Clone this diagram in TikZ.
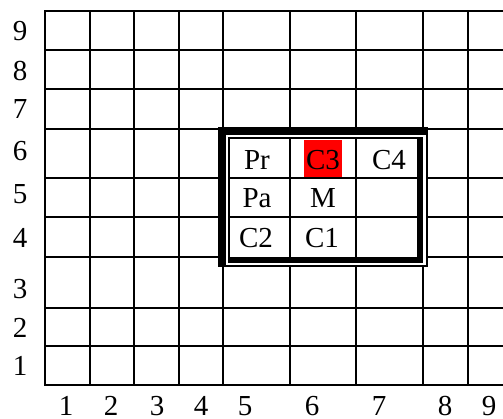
\documentclass[tikz,border=0pt]{standalone}
\usepackage{fontspec}
\setmainfont{Liberation Serif}
\begin{document}
\begin{tikzpicture}[x=1pt,y=-1pt,
  gridline/.style={line width=2pt,line cap=rect},
  lbl/.style={anchor=base,inner sep=0pt,font=\fontsize{29}{29}\selectfont}]
\useasboundingbox[fill=white] (0,0) rectangle (503,418);
% grid
\foreach \y in {11,50,89,129,178,217,257,308,346,385}
  \draw[gridline] (45,\y) -- (503,\y);
\foreach \x in {45,90,134,179,223,290,356,423,468}
  \draw[gridline] (\x,11) -- (\x,385);
% table frame
\fill[white] (218,127) rectangle (428,267);
\draw[line width=8pt] (218,131) -- (428,131);
\draw[line width=8pt] (222,127) -- (222,267);
\draw[line width=1.6pt] (427,127) -- (427,267);
\draw[line width=1.6pt] (218,266) -- (428,266);
\draw[line width=1.6pt] (228,138) -- (423,138);
\draw[line width=1.6pt] (229,137) -- (229,263);
\draw[line width=6pt] (420,137) -- (420,263);
\draw[line width=6pt] (228,260) -- (423,260);
% inner cells
\draw[line width=2pt] (229,178) -- (417,178);
\draw[line width=2pt] (229,217) -- (417,217);
\draw[line width=2pt] (290,138) -- (290,257);
\draw[line width=2pt] (356,138) -- (356,257);
% highlight
\fill[red] (304,140) rectangle (342,177);
% table texts
\node[lbl] (pr) at (257,169) {Pr};
\node[lbl] (c3) at (323,169) {C3};
\node[lbl] (c4) at (389,169) {C4};
\node[lbl] (pa) at (257,207) {Pa};
\node[lbl] (m)  at (323,207) {M};
\node[lbl] (c2) at (256,247) {C2};
\node[lbl] (c1) at (322,247) {C1};
% left labels
\node[lbl] (y9) at (20,40) {9};
\node[lbl] (y8) at (20,80) {8};
\node[lbl] (y7) at (20,118) {7};
\node[lbl] (y6) at (20,160) {6};
\node[lbl] (y5) at (20,203) {5};
\node[lbl] (y4) at (20,247) {4};
\node[lbl] (y3) at (20,298) {3};
\node[lbl] (y2) at (20,337) {2};
\node[lbl] (y1) at (20,375) {1};
% bottom labels
\node[lbl] (x1) at (66,415) {1};
\node[lbl] (x2) at (111,415) {2};
\node[lbl] (x3) at (157,415) {3};
\node[lbl] (x4) at (201,415) {4};
\node[lbl] (x5) at (245,415) {5};
\node[lbl] (x6) at (312,415) {6};
\node[lbl] (x7) at (379,415) {7};
\node[lbl] (x8) at (445,415) {8};
\node[lbl] (x9) at (489,415) {9};
\end{tikzpicture}
\end{document}
